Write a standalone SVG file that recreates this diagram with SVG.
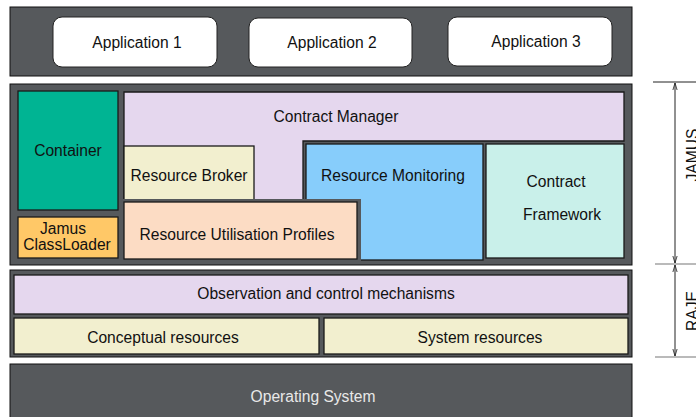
<svg xmlns="http://www.w3.org/2000/svg" width="696" height="417" viewBox="0 0 696 417">
<style>
  .layer { fill: #56595c; stroke: #111; stroke-width: 1; }
  .box { stroke: #1a1a1a; stroke-width: 1.3; }
  .gap { fill: #56595c; stroke: none; }
  .t { font-family: "Liberation Sans", Arial, sans-serif; font-size: 15.6px; fill: #111; text-anchor: middle; }
  .tw { font-family: "Liberation Sans", Arial, sans-serif; font-size: 15.6px; fill: #e8e8e8; text-anchor: middle; }
  .dim { stroke: #222; stroke-width: 1; fill: none; }
  .tick { stroke: #777; stroke-width: 1.2; }
</style>
<defs>
  <marker id="ah" viewBox="0 0 10 10" refX="10" refY="5" markerWidth="7" markerHeight="7" orient="auto-start-reverse" markerUnits="userSpaceOnUse">
    <path d="M0,2 L10,5 L0,8" fill="none" stroke="#222" stroke-width="1.2"/>
  </marker>
</defs>

<g id="applications-layer">
  <rect class="layer" x="10" y="7" width="622" height="69"/>
  <g id="app1">
    <rect x="53" y="17" width="164" height="50" rx="9" fill="#ffffff" stroke="#222" stroke-width="1"/>
    <text class="t" x="137" y="48">Application 1</text>
  </g>
  <g id="app2">
    <rect x="249" y="18" width="163" height="49" rx="9" fill="#ffffff" stroke="#222" stroke-width="1"/>
    <text class="t" x="332" y="48">Application 2</text>
  </g>
  <g id="app3">
    <rect x="448" y="17" width="164" height="49" rx="9" fill="#ffffff" stroke="#222" stroke-width="1"/>
    <text class="t" x="536" y="47">Application 3</text>
  </g>
</g>

<g id="jamus-layer">
  <rect class="layer" x="10" y="84" width="622" height="181"/>
  <g id="container">
    <rect class="box" x="18" y="91" width="100" height="119" fill="#00b493"/>
    <text class="t" x="68" y="156">Container</text>
  </g>
  <g id="classloader">
    <rect class="box" x="18" y="217" width="100" height="41" fill="#ffc867"/>
    <text class="t" x="63" y="234">Jamus</text>
    <text class="t" x="67" y="250">ClassLoader</text>
  </g>
  <g id="contract-manager">
    <path class="box" d="M124,92 H624 V141 H303 V200 H124 Z" fill="#e5d7ee"/>
    <text class="t" x="336" y="122">Contract Manager</text>
  </g>
  <g id="resource-broker">
    <rect class="box" x="124" y="146" width="130" height="54" fill="#f2efcf"/>
    <text class="t" x="189" y="181">Resource Broker</text>
  </g>
  <g id="resource-monitoring">
    <rect class="box" x="306" y="144" width="177" height="116" fill="#87cdfb"/>
    <text class="t" x="393" y="181">Resource Monitoring</text>
  </g>
  <g id="contract-framework">
    <rect class="box" x="486" y="144" width="138" height="114" fill="#c9f0ea"/>
    <text class="t" x="556" y="187">Contract</text>
    <text class="t" x="562" y="220">Framework</text>
  </g>
  <g id="resource-utilisation-profiles">
    <rect class="gap" x="122" y="199" width="239" height="62"/>
    <rect class="box" x="124" y="202" width="233" height="57" fill="#fcdcc4"/>
    <text class="t" x="237" y="240">Resource Utilisation Profiles</text>
  </g>
</g>

<g id="raje-layer">
  <rect class="layer" x="10" y="270" width="622" height="87"/>
  <g id="observation">
    <rect class="box" x="14" y="275" width="614" height="39" fill="#e5d7ee"/>
    <text class="t" x="326" y="299">Observation and control mechanisms</text>
  </g>
  <g id="conceptual-resources">
    <rect class="box" x="14" y="318" width="305" height="36" fill="#f2efcf"/>
    <text class="t" x="163" y="343">Conceptual resources</text>
  </g>
  <g id="system-resources">
    <rect class="box" x="324" y="318" width="304" height="36" fill="#f2efcf"/>
    <text class="t" x="480" y="343">System resources</text>
  </g>
</g>

<g id="operating-system">
  <rect class="layer" x="10" y="364" width="622" height="60"/>
  <text class="tw" x="313" y="402">Operating System</text>
</g>

<g id="dimensions">
  <line class="dim" x1="653" y1="82" x2="696" y2="82"/>
  <line class="tick" x1="655" y1="264" x2="696" y2="264"/>
  <line class="tick" x1="655" y1="357" x2="696" y2="357"/>
  <line class="dim" x1="675" y1="173" x2="675" y2="83" marker-end="url(#ah)"/>
  <line class="dim" x1="675" y1="173" x2="675" y2="263" marker-end="url(#ah)"/>
  <line class="dim" x1="675" y1="310" x2="675" y2="265" marker-end="url(#ah)"/>
  <line class="dim" x1="675" y1="310" x2="675" y2="356" marker-end="url(#ah)"/>
  <text class="t" transform="translate(698,155) rotate(-90)">JAMUS</text>
  <text class="t" transform="translate(698,311) rotate(-90)">RAJE</text>
</g>
</svg>
